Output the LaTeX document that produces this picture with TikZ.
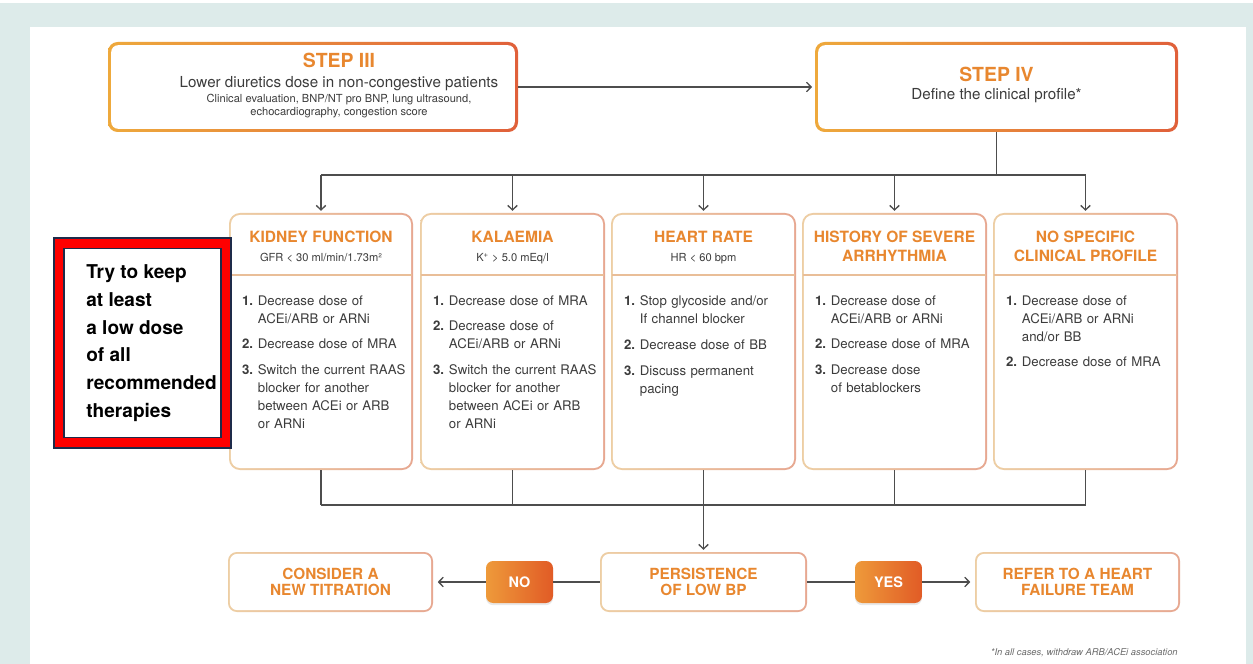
\documentclass[tikz,border=0pt]{standalone}
\usepackage{fontspec}
\setmainfont{TeX Gyre Heros}
\usetikzlibrary{fit,arrows.meta,shadows}

\definecolor{bgteal}{HTML}{DDEBEA}
\definecolor{orgA}{HTML}{EEA93C}
\definecolor{orgB}{HTML}{E0603A}
\definecolor{ttl}{HTML}{E8872F}
\definecolor{bdA}{HTML}{EDCEA4}
\definecolor{bdB}{HTML}{E7A891}
\definecolor{sepc}{HTML}{E9BE98}
\definecolor{txt}{HTML}{3C3C3C}
\definecolor{lnc}{HTML}{4D4D4D}
\definecolor{navy}{HTML}{1E2B4A}
\definecolor{notered}{HTML}{FF0000}
\definecolor{bdgA}{HTML}{EE9A3A}
\definecolor{bdgB}{HTML}{E15B26}
\definecolor{fngray}{HTML}{6A6A6A}

% numbered list entries with hanging indent
\newcommand\itmfirst[2]{\hangindent=9pt\hangafter=1\noindent
  \makebox[9pt][l]{\textbf{#1}}#2}
\newcommand\itm[2]{\par\vspace{4.5pt}\hangindent=9pt\hangafter=1\noindent
  \makebox[9pt][l]{\textbf{#1}}#2}

\tikzset{
  conn/.style={draw=lnc, line width=0.75pt},
  arr/.style={-{Straight Barb[length=2.6pt,width=5.4pt]}},
  ring/.style n args={5}{inner sep=0pt, shade, left color=#1, right color=#2,
    rounded corners=#3,
    path picture={\fill[white, rounded corners=#4]
      ([xshift=#5,yshift=-#5]path picture bounding box.north west) rectangle
      ([xshift=-#5,yshift=#5]path picture bounding box.south east);}},
  stepbox/.style={ring={orgA}{orgB}{5.5pt}{4pt}{1.8pt}},
  colbox/.style={ring={bdA}{bdB}{6.2pt}{5.2pt}{1.1pt}},
  endbox/.style={ring={bdA}{bdB}{5pt}{4pt}{1.1pt}},
  endlabel/.style={inner sep=0pt, anchor=center, text=ttl, align=center,
    font=\fontsize{8.7}{9.4}\selectfont\bfseries},
  badge/.style={inner sep=0pt, shade, left color=bdgA, right color=bdgB,
    rounded corners=4pt,
    drop shadow={opacity=0.18, shadow xshift=0pt, shadow yshift=-1.2pt}},
  badgelabel/.style={inner sep=0pt, anchor=center, text=white,
    font=\fontsize{8.2}{9}\selectfont\bfseries},
  steptitle/.style={inner sep=0pt, anchor=base, text=ttl,
    font=\fontsize{11}{13}\selectfont\bfseries},
  stepmain/.style={inner sep=0pt, anchor=base, text=txt,
    font=\fontsize{8.6}{10}\selectfont},
  stepsub/.style={inner sep=0pt, anchor=base, text=txt,
    font=\fontsize{6.3}{7.5}\selectfont},
  coltitle/.style={inner sep=0pt, anchor=base, text=ttl,
    font=\fontsize{8.8}{10}\selectfont\bfseries},
  colsub/.style={inner sep=0pt, anchor=base, text=txt,
    font=\fontsize{6.3}{7.5}\selectfont},
  collist/.style={inner sep=0pt, anchor=north west, text=txt, text width=95pt,
    align=left, font=\fontsize{7.5}{10.2}\selectfont},
  sepline/.style={draw=sepc, line width=0.8pt},
}

\begin{document}
\begin{tikzpicture}[x=0.567pt, y=-0.567pt]
\useasboundingbox (0,0) rectangle (1253,664);
% page frame
\fill[bgteal] (0,3) rectangle (1253,664);
\fill[white] (30,27) rectangle (1246,664);

% ---- steps ----
\node[stepbox, fit={(108,42)(518,132)}] (s3) {};
\node[stepbox, fit={(815,42)(1178,132)}] (s4) {};

\node[steptitle] (s3t) at (339,68) {STEP III};
\node[stepmain]  (s3a) at (339,88) {Lower diuretics dose in non-congestive patients};
\node[stepsub]   (s3b) at (339,103) {Clinical evaluation, BNP/NT pro BNP, lung ultrasound,};
\node[stepsub]   (s3c) at (339,116) {echocardiography, congestion score};

\node[steptitle] (s4t) at (996.5,82) {STEP IV};
\node[stepmain]  (s4a) at (996.5,100) {Define the clinical profile*};

\draw[conn, arr, shorten >=1.5pt] (s3.east) -- (s4.west);

% ---- clinical profiles ----
\node[colbox, fit={(229,213)(413,470)}] (c1) {};
\node[colbox, fit={(420,213)(605,470)}] (c2) {};
\node[colbox, fit={(611,213)(796,470)}] (c3) {};
\node[colbox, fit={(802,213)(987,470)}] (c4) {};
\node[colbox, fit={(993,213)(1178,470)}] (c5) {};

\coordinate (sepy) at (0,275);
\coordinate (hdA) at (0,243);
\coordinate (hdB) at (0,261.5);
\coordinate (lsty) at (0,295);
\foreach \c in {c1,c2,c3,c4,c5}{
  \draw[sepline] ([xshift=0.6pt]\c.west |- sepy) -- ([xshift=-0.6pt]\c.east |- sepy);
}

\node[coltitle] (t1) at (c1.north |- hdA) {KIDNEY FUNCTION};
\node[colsub]   (u1) at (c1.north |- hdB) {GFR < 30 ml/min/1.73m²};
\node[coltitle] (t2) at (c2.north |- hdA) {KALAEMIA};
\node[colsub]   (u2) at (c2.north |- hdB) {K\textsuperscript{+} > 5.0 mEq/l};
\node[coltitle] (t3) at (c3.north |- hdA) {HEART RATE};
\node[colsub]   (u3) at (c3.north |- hdB) {HR < 60 bpm};
\node[coltitle] (t4) at (c4.north |- hdA) {HISTORY OF SEVERE};
\node[coltitle] (u4) at (c4.north |- hdB) {ARRHYTHMIA};
\node[coltitle] (t5) at (c5.north |- hdA) {NO SPECIFIC};
\node[coltitle] (u5) at (c5.north |- hdB) {CLINICAL PROFILE};

\node[collist] (l1) at ([xshift=7.4pt]c1.west |- lsty) {%
  \itmfirst{1.}{Decrease dose of\newline ACEi/ARB or ARNi}%
  \itm{2.}{Decrease dose of MRA}%
  \itm{3.}{Switch the current RAAS\newline blocker for another\newline between ACEi or ARB\newline or ARNi}\par};
\node[collist] (l2) at ([xshift=7.4pt]c2.west |- lsty) {%
  \itmfirst{1.}{Decrease dose of MRA}%
  \itm{2.}{Decrease dose of\newline ACEi/ARB or ARNi}%
  \itm{3.}{Switch the current RAAS\newline blocker for another\newline between ACEi or ARB\newline or ARNi}\par};
\node[collist] (l3) at ([xshift=7.4pt]c3.west |- lsty) {%
  \itmfirst{1.}{Stop glycoside and/or\newline If channel blocker}%
  \itm{2.}{Decrease dose of BB}%
  \itm{3.}{Discuss permanent\newline pacing}\par};
\node[collist] (l4) at ([xshift=7.4pt]c4.west |- lsty) {%
  \itmfirst{1.}{Decrease dose of\newline ACEi/ARB or ARNi}%
  \itm{2.}{Decrease dose of MRA}%
  \itm{3.}{Decrease dose\newline of betablockers}\par};
\node[collist] (l5) at ([xshift=7.4pt]c5.west |- lsty) {%
  \itmfirst{1.}{Decrease dose of\newline ACEi/ARB or ARNi\newline and/or BB}%
  \itm{2.}{Decrease dose of MRA}\par};

% distribution from step IV
\coordinate (busA) at (0,175);
\draw[conn] (s4.south) -- (s4.south |- busA);
\draw[conn] (c1.north |- busA) -- (c5.north |- busA);
\foreach \c in {c1,c2,c3,c4,c5}{
  \draw[conn, arr, shorten >=1pt] (\c.north |- busA) -- (\c.north);
}

% ---- outcome row ----
\node[endbox, fit={(228,552)(433,612)}] (cons) {};
\node[endbox, fit={(600,552)(807,612)}] (pers) {};
\node[endbox, fit={(975,552)(1180,612)}] (refer) {};
\node[badge, fit={(486,561)(553,603)}] (no) {};
\node[badge, fit={(855,561)(922,603)}] (yes) {};

\node[endlabel] (consT)  at (cons.center)  {CONSIDER A\\NEW TITRATION};
\node[endlabel] (persT)  at (pers.center)  {PERSISTENCE\\OF LOW BP};
\node[endlabel] (referT) at (refer.center) {REFER TO A HEART\\FAILURE TEAM};
\node[badgelabel] (noT)  at (no.center)  {NO};
\node[badgelabel] (yesT) at (yes.center) {YES};

\coordinate (busB) at (0,505);
\foreach \c in {c1,c2,c3,c4,c5}{
  \draw[conn] (\c.south) -- (\c.south |- busB);
}
\draw[conn] (c1.south |- busB) -- (c5.south |- busB);
\draw[conn, arr, shorten >=1pt] (pers.north |- busB) -- (pers.north);

\draw[conn] (pers.west) -- (no.east);
\draw[conn, arr, shorten >=2.5pt] (no.west) -- (cons.east);
\draw[conn] (pers.east) -- (yes.west);
\draw[conn, arr, shorten >=2.5pt] (yes.east) -- (refer.west);

% ---- highlighted note ----
\node[fit={(53,237)(232,449)}, inner sep=0pt, fill=navy] (notefr) {};
\fill[notered] ([xshift=1.1pt,yshift=-1.1pt]notefr.north west) rectangle
               ([xshift=-1.1pt,yshift=1.1pt]notefr.south east);
\fill[navy] ([xshift=6pt,yshift=-6.2pt]notefr.north west) rectangle
            ([xshift=-6pt,yshift=6.2pt]notefr.south east);
\fill[white] ([xshift=7pt,yshift=-7.2pt]notefr.north west) rectangle
             ([xshift=-7pt,yshift=7.2pt]notefr.south east);
\node[anchor=north west, inner sep=0pt, align=left, text=black,
      font=\fontsize{10.8}{15.7}\selectfont\bfseries] (notetxt) at (86,264.5)
  {Try to keep\\at least\\a low dose\\of all\\recommended\\therapies};

% footnote
\node[anchor=base east, inner sep=0pt, text=fngray,
      font=\fontsize{5.3}{6}\selectfont\itshape] (fn) at (1178,655)
  {*In all cases, withdraw ARB/ACEi association};
\end{tikzpicture}
\end{document}
